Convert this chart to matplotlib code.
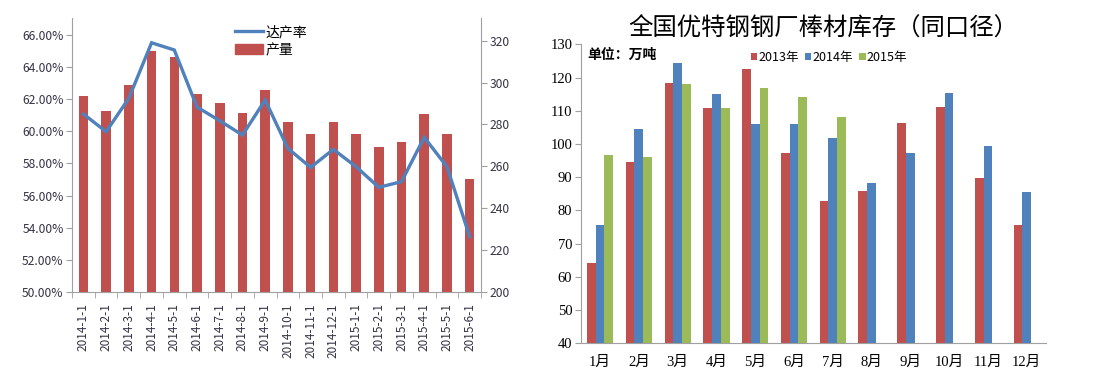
import matplotlib
matplotlib.use("Agg")
import matplotlib.pyplot as plt
import numpy as np
from matplotlib.lines import Line2D
from matplotlib.patches import Patch

# ---------- data: left chart ----------
dates = ["2014-1-1", "2014-2-1", "2014-3-1", "2014-4-1", "2014-5-1", "2014-6-1",
         "2014-7-1", "2014-8-1", "2014-9-1", "2014-10-1", "2014-11-1", "2014-12-1",
         "2015-1-1", "2015-2-1", "2015-3-1", "2015-4-1", "2015-5-1", "2015-6-1"]
output = [293.6, 286.6, 298.8, 315.2, 312.2, 294.7, 290.1, 285.3, 296.4,
          281.3, 275.4, 281.3, 275.4, 269.2, 271.4, 284.8, 275.4, 253.9]
rate = [61.07, 59.97, 62.05, 65.5, 65.05, 61.5, 60.65, 59.76, 61.94,
        58.93, 57.75, 58.87, 57.79, 56.51, 56.86, 59.62, 57.79, 53.44]
left_yticks = [50, 52, 54, 56, 58, 60, 62, 64, 66]
right_yticks = [200, 220, 240, 260, 280, 300, 320]

# ---------- data: right chart ----------
months = ["1月", "2月", "3月", "4月", "5月", "6月", "7月", "8月", "9月", "10月", "11月", "12月"]
inv2013 = [64.1, 94.5, 118.5, 110.9, 122.5, 97.2, 82.8, 85.9, 106.4, 111.2, 89.7, 75.6]
inv2014 = [75.6, 104.4, 124.3, 114.9, 106.1, 106.1, 101.7, 88.4, 97.2, 115.3, 99.3, 85.5]
inv2015 = [96.6, 96.2, 118.2, 110.9, 116.8, 114.2, 108.2]
series_names = ["2013年", "2014年", "2015年"]

RED = "#C0504D"
BLUE = "#4F81BD"
GREEN = "#9BBB59"
GRAY = "#A0A0A0"
SANS = ["Noto Sans CJK SC", "DejaVu Sans"]
SERIF = ["Liberation Serif", "Noto Sans CJK SC"]

fig = plt.figure(figsize=(10.95, 3.89), dpi=100)

# ================= left chart =================
ax1 = fig.add_axes([0.0658, 0.2494, 0.3735, 0.7043])
ax2 = ax1.twinx()
x = np.arange(len(dates))
ax2.bar(x, output, width=0.42, color=RED, zorder=2)
ax1.plot(x, rate, color=BLUE, lw=2.4, zorder=3, solid_joinstyle="miter")
ax1.set_zorder(ax2.get_zorder() + 1)
ax1.patch.set_visible(False)

ax1.set_xlim(-0.5, len(dates) - 0.5)
ax1.set_ylim(50, 67.04)
ax2.set_ylim(200, 330.8)
ax1.set_yticks(left_yticks)
ax1.set_yticklabels([f"{v:.2f}%" for v in left_yticks], family=SANS, fontsize=8.7, color="#333344")
ax2.set_yticks(right_yticks)
ax2.set_yticklabels([str(v) for v in right_yticks], family=SANS, fontsize=8.7, color="#333344")
ax1.set_xticks(x)
ax1.set_xticklabels(dates, rotation=90, family=SANS, fontsize=8.5, color="#333344")
ax1.set_xticks(np.arange(-0.5, len(dates)), minor=True)
ax1.tick_params(axis="x", which="major", length=0, pad=8)
ax1.tick_params(axis="x", which="minor", length=4, color=GRAY, direction="out")
ax1.tick_params(axis="y", length=4, color=GRAY, pad=2)
ax2.tick_params(axis="y", length=4, color=GRAY, pad=2)
for a in (ax1, ax2):
    a.spines["top"].set_visible(False)
    for s in ("left", "right", "bottom"):
        a.spines[s].set_color(GRAY)
ax1.spines["right"].set_visible(False)
ax2.spines["left"].set_visible(False)
ax2.spines["bottom"].set_visible(False)

handles = [Line2D([0], [0], color=BLUE, lw=2.4), Patch(color=RED)]
ax1.legend(handles, ["达产率", "产量"], loc="upper left", bbox_to_anchor=(0.385, 0.995),
           frameon=False, prop={"family": SANS, "size": 10}, handlelength=2.0,
           handletextpad=0.2, labelspacing=0.3, borderaxespad=0)

# ================= right chart =================
ax3 = fig.add_axes([0.5303, 0.1175, 0.425, 0.7686])
xm = np.arange(len(months))
w = 0.225
ax3.bar(xm - w, inv2013, width=w, color=RED, label=series_names[0])
ax3.bar(xm, inv2014, width=w, color=BLUE, label=series_names[1])
ax3.bar(np.arange(len(inv2015)) + w, inv2015, width=w, color=GREEN, label=series_names[2])
ax3.set_xlim(-0.5, len(months) - 0.5)
ax3.set_ylim(40, 130)
ax3.set_yticks(np.arange(40, 131, 10))
ax3.set_yticklabels([str(v) for v in range(40, 131, 10)], family=SERIF, fontsize=10.5)
ax3.set_xticks(xm)
ax3.set_xticklabels(months, family=SERIF, fontsize=10.5)
ax3.tick_params(axis="x", length=0, pad=9)
ax3.tick_params(axis="y", length=4, color=GRAY, pad=2)
for s in ("top", "right"):
    ax3.spines[s].set_visible(False)
for s in ("left", "bottom"):
    ax3.spines[s].set_color(GRAY)

ax3.text(0.015, 0.965, "单位：万吨", transform=ax3.transAxes, family=SANS, fontsize=10,
         fontweight="bold", va="center", ha="left")
ax3.legend(loc="center left", bbox_to_anchor=(0.355, 0.955), ncol=3, frameon=False,
           prop={"family": SANS, "size": 9}, handlelength=0.5, handleheight=0.5,
           handletextpad=0.1, columnspacing=0.5, borderaxespad=0)
fig.text(0.752, 0.926, "全国优特钢钢厂棒材库存（同口径）", family=SANS, fontsize=17.6,
         ha="center", va="center")

fig.savefig("out.png", dpi=100)
